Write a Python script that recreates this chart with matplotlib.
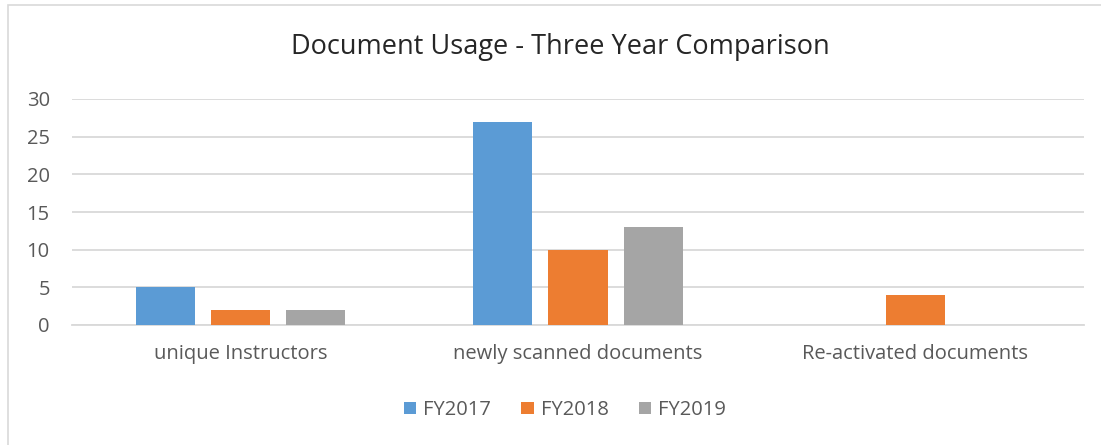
import matplotlib.pyplot as plt
from matplotlib.patches import Rectangle
import numpy as np

categories = ["unique Instructors", "newly scanned documents", "Re-activated documents"]
series_names = ["FY2017", "FY2018", "FY2019"]
fy2017 = [5, 27, 0]
fy2018 = [2, 10, 4]
fy2019 = [2, 13, 0]
y_ticks = [0, 5, 10, 15, 20, 25, 30]

colors = ["#5B9BD5", "#ED7D31", "#A5A5A5"]
text_color = "#595959"
grid_color = "#D9D9D9"

plt.rcParams['font.family'] = ['Open Sans', 'DejaVu Sans']

W, H = 1101, 445
fig = plt.figure(figsize=(W / 100, H / 100), dpi=100)
fig.patch.set_facecolor("white")

# chart frame
fig.patches.append(Rectangle((8 / W, -0.05), 1.1, 1 - 5 / H + 0.05,
                             transform=fig.transFigure, fill=False,
                             edgecolor=grid_color, linewidth=1.2))

ax = fig.add_axes([72 / W, 120 / H, (1084 - 72) / W, (346 - 120) / H])

x = np.arange(len(categories))
width = 0.175
step = 0.2226
for k, (vals, name) in enumerate(zip([fy2017, fy2018, fy2019], series_names)):
    ax.bar(x + (k - 1) * step, vals, width, color=colors[k], label=name, zorder=3)

ax.set_xlim(-0.5, 2.5)
ax.set_ylim(0, 30)
ax.set_yticks(y_ticks)
ax.set_xticks(x)
ax.set_xticklabels(categories)
ax.yaxis.grid(True, color=grid_color, linewidth=1.3, zorder=0)
for s in ["top", "right", "left"]:
    ax.spines[s].set_visible(False)
ax.spines["bottom"].set_color(grid_color)
ax.spines["bottom"].set_linewidth(1.3)
ax.tick_params(axis="both", length=0, colors=text_color, labelsize=14.5)
ax.tick_params(axis="y", pad=16)
ax.tick_params(axis="x", pad=14)
for lbl in ax.get_yticklabels():
    lbl.set_horizontalalignment("right")

fig.text(560 / W, 1 - 47 / H, "Document Usage - Three Year Comparison",
         ha="center", va="center", fontsize=19.5, color="#262626")

fig.legend(loc="center", bbox_to_anchor=(565 / W, 1 - 410 / H), ncol=3,
           frameon=False, fontsize=14.5, labelcolor=text_color,
           handlelength=0.6, handleheight=0.6, handletextpad=0.35,
           columnspacing=1.5)

fig.savefig("out.png", dpi=100)
